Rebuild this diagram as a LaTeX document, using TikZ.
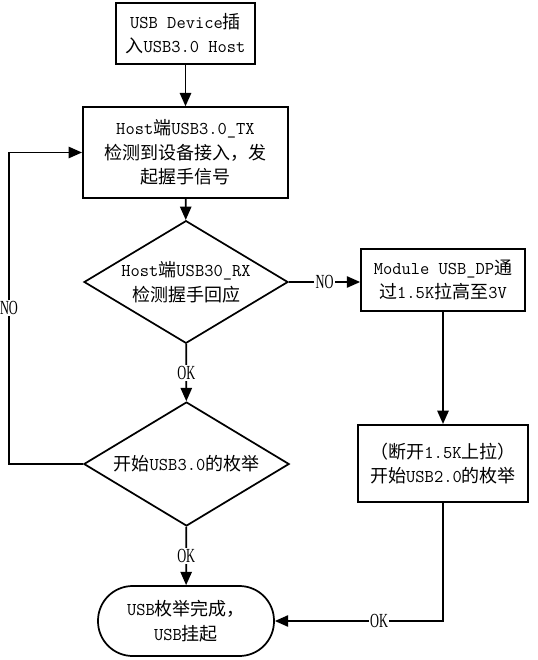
\documentclass[tikz,border=0pt]{standalone}
\usepackage{fontspec}
\usetikzlibrary{arrows.meta, shapes.geometric, positioning}
\newfontfamily\cjk{Noto Sans CJK SC}
\newfontfamily\narrowrm[FakeStretch=0.62]{Liberation Serif}
\newcommand{\zh}[1]{{\cjk #1}}
\tikzset{
  flow/.style      = {-{Triangle[length=10pt,width=8.5pt]}, line width=1.3pt, black},
  txt/.style       = {font=\ttfamily\fontsize{13.5}{18.5}\selectfont, align=center},
  procbox/.style   = {draw, line width=1.3pt, inner sep=0pt, txt},
  decision/.style  = {diamond, draw, line width=1.3pt, inner sep=0pt, aspect=1.66, txt},
  terminal/.style  = {draw, line width=1.3pt, inner sep=0pt, rounded corners=26pt, txt},
  lbl/.style       = {fill=white, inner sep=1pt, font=\narrowrm\fontsize{15}{15}\selectfont},
}
\begin{document}
\begin{tikzpicture}[x=0.75pt, y=-0.75pt]
  \useasboundingbox (0,0) rectangle (537,660);
  % main column
  \node[procbox, minimum width=104pt, minimum height=46pt] (plugin) at (185.5,33.5)
    {USB Device\zh{插}\\\zh{入}USB3.0 Host};
  \node[procbox, minimum width=154pt, minimum height=68pt] (txdetect) at (185.5,152.5)
    {Host\zh{端}USB3.0\_TX\\\zh{检测到设备接入，发}\\\zh{起握手信号}};
  \node[decision, minimum width=153pt, minimum height=92pt] (rxcheck) at (186,282)
    {Host\zh{端}USB30\_RX\\\zh{检测握手回应}};
  \node[decision, minimum width=154pt, minimum height=93pt] (enum3) at (186.5,464)
    {\zh{开始}USB3.0\zh{的枚举}};
  \node[terminal, minimum width=132pt, minimum height=52.5pt] (done) at (186,621)
    {USB\zh{枚举完成，}\\USB\zh{挂起}};
  % fallback column
  \node[procbox, minimum width=123pt, minimum height=47pt] (pullup) at (443,280)
    {Module USB\_DP\zh{通}\\\zh{过}1.5K\zh{拉高至}3V};
  \node[procbox, minimum width=128pt, minimum height=58pt] (enum2) at (443,463.5)
    {\zh{（断开}1.5K\zh{上拉）}\\\zh{开始}USB2.0\zh{的枚举}};
  % connectors
  \draw[flow] (plugin) -- (txdetect);
  \draw[flow] (txdetect) -- (rxcheck);
  \draw[flow] (rxcheck.east) -- node[lbl] {NO} (rxcheck.east -| pullup.west);
  \draw[flow] (rxcheck) -- node[lbl] {OK} (enum3);
  \draw[flow] (enum3) -- node[lbl] {OK} (done);
  \draw[flow] (enum3.west) -- ++(-74,0) |- node[lbl, pos=0.25] {NO} (txdetect.west);
  \draw[flow] (pullup) -- (enum2);
  \draw[flow] (enum2.south) |- node[lbl, pos=0.69] {OK} (done.east);
\end{tikzpicture}
\end{document}
